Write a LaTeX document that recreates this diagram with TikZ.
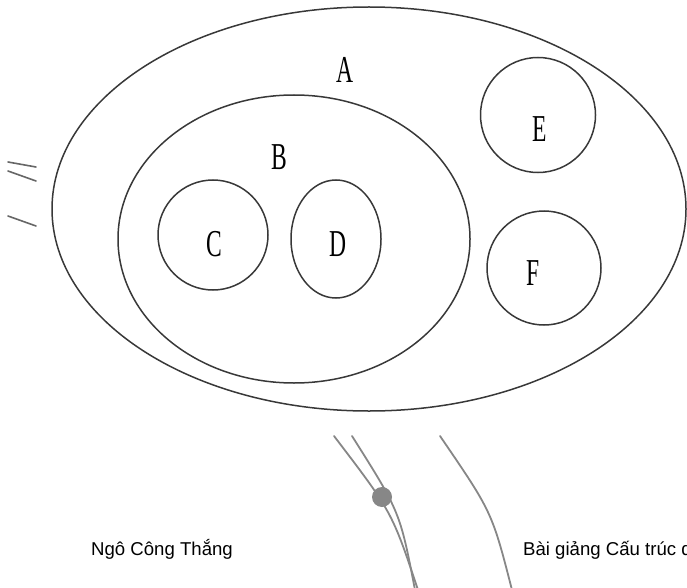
\documentclass[tikz,border=0pt]{standalone}
\usepackage{fontspec}
\setmainfont{Liberation Sans}
\newfontfamily\setfont{Liberation Serif}
\tikzset{
  setline/.style={line width=1.5pt, draw=black!78},
  setlabel/.style={font=\setfont\fontsize{38}{38}\selectfont, inner sep=0pt},
  trace/.style={line width=1.8pt, draw=black!47, line cap=round},
  tick/.style={line width=1.6pt, draw=black!60, line cap=round},
  footer/.style={font=\fontsize{18.6}{20}\selectfont, anchor=base west, inner sep=0pt},
}
\newcommand{\narrow}[1]{\scalebox{0.62}[1]{#1}}

\begin{document}
\begin{tikzpicture}[x=1pt,y=-1pt]
\useasboundingbox (0,0) rectangle (687,588);
\clip (0,0) rectangle (687,588);

% set A
\draw[setline] (369,209) ellipse [x radius=317, y radius=202];
\node[setlabel] (labA) at (345,70) {\narrow{A}};

% set B inside A
\draw[setline] (294,239) ellipse [x radius=176, y radius=144];
\node[setlabel] (labB) at (279,157) {\narrow{B}};

% C and D inside B
\draw[setline] (213,235) ellipse [x radius=55, y radius=55];
\node[setlabel] (labC) at (214,244) {\narrow{C}};
\draw[setline] (336,239) ellipse [x radius=45, y radius=59];
\node[setlabel] (labD) at (338,244) {\narrow{D}};

% E and F inside A
\draw[setline] (538,115) circle [radius=57.5];
\node[setlabel] (labE) at (540,129) {\narrow{E}};
\draw[setline] (544,268) circle [radius=57];
\node[setlabel] (labF) at (533,273) {\narrow{F}};

% marks at the left
\draw[tick] (8,162) -- (36,167);
\draw[tick] (8,171) -- (36,181);
\draw[tick] (8,216) -- (36,226);

% gray traces at the bottom
\draw[trace] (334,436) .. controls (392,512) .. (418,590);
\draw[trace] (352,436) .. controls (400,512) .. (415,590);
\draw[trace] (440,436) .. controls (492,512) .. (512,590);
\fill[black!47] (382,497) circle [radius=10];

% footer
\node[footer] (author) at (91,555) {Ngô Công Thắng};
\node[footer] (course) at (523,555) {Bài giảng Cấu trúc d};

\end{tikzpicture}
\end{document}
